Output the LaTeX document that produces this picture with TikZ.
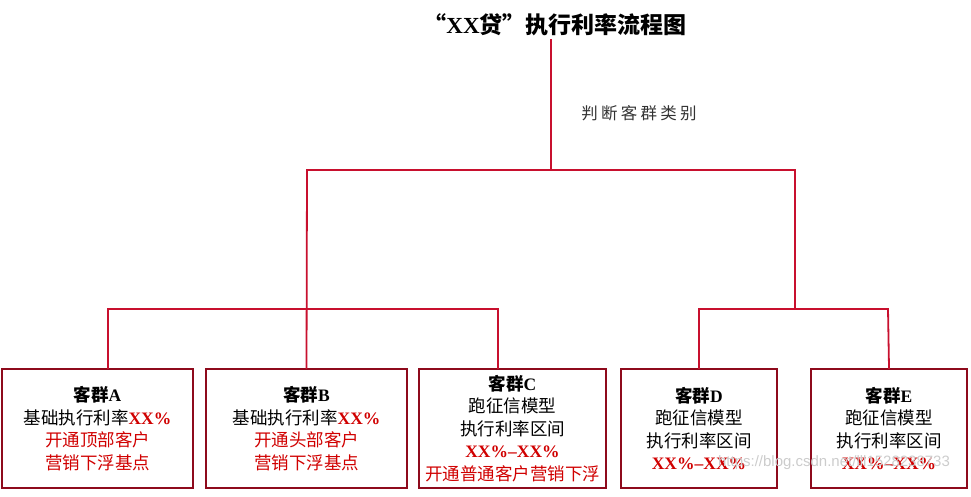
\documentclass[tikz,border=0pt]{standalone}
\usepackage{fontspec}
\setmainfont{Liberation Serif}
\setsansfont{Liberation Sans}
\newfontfamily\cjk{Noto Sans CJK SC}
\newfontfamily\cjkwide[LetterSpace=20]{Noto Sans CJK SC}
\usepackage{xcolor}
\usetikzlibrary{positioning}
\definecolor{boxred}{HTML}{8E0A1C}
\definecolor{linkred}{HTML}{C8102E}
\definecolor{txtred}{HTML}{D00000}
\newcommand\zh[1]{{\cjk#1}}
\newcommand\hot[1]{\textcolor{txtred}{\textbf{#1}}}
\newcommand\red[1]{\textcolor{txtred}{\zh{#1}}}

\begin{document}
\begin{tikzpicture}[x=1pt, y=-1pt,
    group/.style={draw=boxred, line width=2.2pt, minimum height=119pt, inner sep=0pt, align=center, font=\fontsize{17.5}{22.5}\selectfont},
    link/.style={draw=linkred, line width=1.8pt, line cap=rect}
]
\useasboundingbox (0,0) rectangle (971,497);
\node[font=\fontsize{23}{27}\selectfont\bfseries] (title) at (555,25) {\zh{“}XX\zh{贷”执行利率流程图}};
\node[font=\fontsize{16.5}{20}\selectfont, text=black!80] (judge) at (639,113) {\cjkwide 判断客群类别};

\node[group, minimum width=191pt] (A) at (97.5,428.5) {\textbf{\zh{客群}A}\\ \zh{基础执行利率}\hot{XX\%}\\ \red{开通顶部客户}\\ \red{营销下浮基点}};
\node[group, minimum width=201pt] (B) at (306.5,428.5) {\textbf{\zh{客群}B}\\ \zh{基础执行利率}\hot{XX\%}\\ \red{开通头部客户}\\ \red{营销下浮基点}};
\node[group, minimum width=187pt] (C) at (512.5,428.5) {\textbf{\zh{客群}C}\\ \zh{跑征信模型}\\ \zh{执行利率区间}\\ \hot{XX\%--XX\%}\\ \red{开通普通客户营销下浮}};
\node[group, minimum width=156pt] (D) at (699,428.5) {\textbf{\zh{客群}D}\\ \zh{跑征信模型}\\ \zh{执行利率区间}\\ \hot{XX\%--XX\%}};
\node[group, minimum width=156pt] (E) at (889,428.5) {\textbf{\zh{客群}E}\\ \zh{跑征信模型}\\ \zh{执行利率区间}\\ \hot{XX\%--XX\%}};

\coordinate (split) at (551,170);
\coordinate (splitL) at (307,170);
\coordinate (splitR) at (795,170);
\coordinate (barA) at (108,309);
\coordinate (barC) at (498,309);
\coordinate (barR) at (795,309);
\coordinate (barD) at (699,309);
\coordinate (barE) at (888,309);

\draw[link] (title.south -| split) -- (split);
\draw[link] (splitL) -- (splitR);
\draw[link] (splitL) -- (B.north);
\draw[link] (barA) -- (barC);
\draw[link] (barA) -- (barA |- A.north);
\draw[link] (barC) -- (barC |- C.north);
\draw[link] (splitR) -- (barR);
\draw[link] (barD) -- (barE);
\draw[link] (barD) -- (D.north);
\draw[link] (barE) -- (E.north);

\node[font=\fontsize{15}{15}\selectfont\sffamily, text=black!20] (watermark) at (834,463) {https://blog.csdn.net/lll1528238733};
\end{tikzpicture}
\end{document}
